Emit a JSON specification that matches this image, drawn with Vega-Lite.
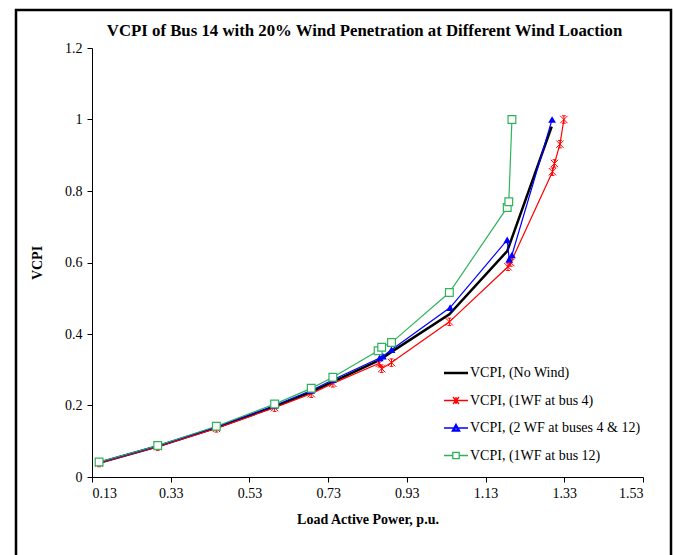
{
  "$schema": "https://vega.github.io/schema/vega-lite/v6.json",
  "width": 655,
  "height": 560,
  "autosize": "none",
  "padding": {"left": 16, "top": 10, "right": 2, "bottom": 0},
  "background": "white",
  "config": {
    "view": {"stroke": "black", "strokeWidth": 2.5},
    "font": "Liberation Serif",
    "axis": {"grid": false, "domainColor": "black", "tickColor": "black", "labelColor": "black", "titleColor": "black", "labelFont": "Liberation Serif", "titleFont": "Liberation Serif", "labelFontSize": 14, "titleFontSize": 14, "titleFontWeight": "bold", "tickSize": 5, "domainWidth": 1, "tickWidth": 1}
  },
  "title": {"text": "VCPI of Bus 14 with 20% Wind Penetration at Different Wind Loaction", "font": "Liberation Serif", "fontSize": 16.8, "fontWeight": "bold", "color": "black", "anchor": "middle", "frame": "group", "offset": -30, "dx": 21},
  "data": {"values": [
    {"series": "VCPI, (No Wind)", "x": 0.148, "y": 0.040},
    {"series": "VCPI, (No Wind)", "x": 0.297, "y": 0.086},
    {"series": "VCPI, (No Wind)", "x": 0.446, "y": 0.138},
    {"series": "VCPI, (No Wind)", "x": 0.594, "y": 0.197},
    {"series": "VCPI, (No Wind)", "x": 0.687, "y": 0.238},
    {"series": "VCPI, (No Wind)", "x": 0.742, "y": 0.266},
    {"series": "VCPI, (No Wind)", "x": 0.860, "y": 0.327},
    {"series": "VCPI, (No Wind)", "x": 0.891, "y": 0.350},
    {"series": "VCPI, (No Wind)", "x": 1.038, "y": 0.455},
    {"series": "VCPI, (No Wind)", "x": 1.185, "y": 0.632},
    {"series": "VCPI, (No Wind)", "x": 1.298, "y": 0.980},
    {"series": "VCPI, (1WF at bus 4)", "x": 0.148, "y": 0.039},
    {"series": "VCPI, (1WF at bus 4)", "x": 0.297, "y": 0.085},
    {"series": "VCPI, (1WF at bus 4)", "x": 0.446, "y": 0.136},
    {"series": "VCPI, (1WF at bus 4)", "x": 0.594, "y": 0.194},
    {"series": "VCPI, (1WF at bus 4)", "x": 0.687, "y": 0.233},
    {"series": "VCPI, (1WF at bus 4)", "x": 0.742, "y": 0.262},
    {"series": "VCPI, (1WF at bus 4)", "x": 0.860, "y": 0.318},
    {"series": "VCPI, (1WF at bus 4)", "x": 0.866, "y": 0.303},
    {"series": "VCPI, (1WF at bus 4)", "x": 0.891, "y": 0.320},
    {"series": "VCPI, (1WF at bus 4)", "x": 1.038, "y": 0.434},
    {"series": "VCPI, (1WF at bus 4)", "x": 1.187, "y": 0.588},
    {"series": "VCPI, (1WF at bus 4)", "x": 1.194, "y": 0.600},
    {"series": "VCPI, (1WF at bus 4)", "x": 1.300, "y": 0.854},
    {"series": "VCPI, (1WF at bus 4)", "x": 1.305, "y": 0.877},
    {"series": "VCPI, (1WF at bus 4)", "x": 1.319, "y": 0.931},
    {"series": "VCPI, (1WF at bus 4)", "x": 1.329, "y": 1.000},
    {"series": "VCPI, (2 WF at buses 4 & 12)", "x": 0.148, "y": 0.041},
    {"series": "VCPI, (2 WF at buses 4 & 12)", "x": 0.297, "y": 0.087},
    {"series": "VCPI, (2 WF at buses 4 & 12)", "x": 0.446, "y": 0.140},
    {"series": "VCPI, (2 WF at buses 4 & 12)", "x": 0.594, "y": 0.200},
    {"series": "VCPI, (2 WF at buses 4 & 12)", "x": 0.687, "y": 0.242},
    {"series": "VCPI, (2 WF at buses 4 & 12)", "x": 0.742, "y": 0.272},
    {"series": "VCPI, (2 WF at buses 4 & 12)", "x": 0.861, "y": 0.333},
    {"series": "VCPI, (2 WF at buses 4 & 12)", "x": 0.869, "y": 0.338},
    {"series": "VCPI, (2 WF at buses 4 & 12)", "x": 0.891, "y": 0.356},
    {"series": "VCPI, (2 WF at buses 4 & 12)", "x": 1.040, "y": 0.474},
    {"series": "VCPI, (2 WF at buses 4 & 12)", "x": 1.185, "y": 0.663},
    {"series": "VCPI, (2 WF at buses 4 & 12)", "x": 1.190, "y": 0.609},
    {"series": "VCPI, (2 WF at buses 4 & 12)", "x": 1.197, "y": 0.621},
    {"series": "VCPI, (2 WF at buses 4 & 12)", "x": 1.299, "y": 1.000},
    {"series": "VCPI, (1WF at bus 12)", "x": 0.148, "y": 0.042},
    {"series": "VCPI, (1WF at bus 12)", "x": 0.297, "y": 0.088},
    {"series": "VCPI, (1WF at bus 12)", "x": 0.446, "y": 0.142},
    {"series": "VCPI, (1WF at bus 12)", "x": 0.594, "y": 0.204},
    {"series": "VCPI, (1WF at bus 12)", "x": 0.687, "y": 0.248},
    {"series": "VCPI, (1WF at bus 12)", "x": 0.742, "y": 0.279},
    {"series": "VCPI, (1WF at bus 12)", "x": 0.857, "y": 0.353},
    {"series": "VCPI, (1WF at bus 12)", "x": 0.866, "y": 0.363},
    {"series": "VCPI, (1WF at bus 12)", "x": 0.891, "y": 0.376},
    {"series": "VCPI, (1WF at bus 12)", "x": 1.038, "y": 0.516},
    {"series": "VCPI, (1WF at bus 12)", "x": 1.185, "y": 0.754},
    {"series": "VCPI, (1WF at bus 12)", "x": 1.189, "y": 0.770},
    {"series": "VCPI, (1WF at bus 12)", "x": 1.197, "y": 1.000}
  ]},
  "encoding": {
    "x": {"field": "x", "type": "quantitative", "scale": {"domain": [0.13, 1.53], "range": [76, 627], "nice": false, "zero": false},
          "axis": {"title": "Load Active Power, p.u.", "values": [0.13, 0.33, 0.53, 0.73, 0.93, 1.13, 1.33, 1.53], "format": ".2f", "offset": -93, "labelPadding": 4, "titlePadding": 12}},
    "y": {"field": "y", "type": "quantitative", "scale": {"domain": [0, 1.2], "range": [467, 38], "nice": false, "zero": true},
          "axis": {"title": "VCPI", "values": [0, 0.2, 0.4, 0.6, 0.8, 1, 1.2], "format": "~g", "offset": -76, "labelPadding": 5, "titlePadding": 20}}
  },
  "layer": [
    {
      "transform": [{"filter": {"field": "series", "equal": "VCPI, (No Wind)"}}],
      "mark": {"type": "line", "color": "black", "strokeWidth": 2.5, "clip": false}
    },
    {
      "transform": [{"filter": {"field": "series", "equal": "VCPI, (1WF at bus 4)"}}],
      "mark": {"type": "line", "color": "#FF0000", "strokeWidth": 1.2, "clip": false}
    },
    {
      "transform": [{"filter": {"field": "series", "equal": "VCPI, (2 WF at buses 4 & 12)"}}],
      "mark": {"type": "line", "color": "#0000FF", "strokeWidth": 1.2, "clip": false}
    },
    {
      "transform": [{"filter": {"field": "series", "equal": "VCPI, (1WF at bus 12)"}}],
      "mark": {"type": "line", "color": "#2EB35A", "strokeWidth": 1.2, "clip": false}
    },
    {
      "transform": [{"filter": {"field": "series", "equal": "VCPI, (1WF at bus 4)"}}],
      "mark": {"type": "point", "shape": "M-1,-1L1,1M-1,1L1,-1M0,-1V1M-0.5,-1H0.5M-0.5,1H0.5", "filled": false, "color": "#FF0000", "size": 55, "strokeWidth": 1, "opacity": 1}
    },
    {
      "transform": [{"filter": {"field": "series", "equal": "VCPI, (2 WF at buses 4 & 12)"}}],
      "mark": {"type": "point", "shape": "triangle-up", "filled": true, "color": "#0000FF", "size": 60, "opacity": 1}
    },
    {
      "transform": [{"filter": {"field": "series", "equal": "VCPI, (1WF at bus 12)"}}],
      "mark": {"type": "point", "shape": "square", "filled": false, "fill": "white", "fillOpacity": 1, "color": "#2EB35A", "size": 60, "strokeWidth": 1.2, "opacity": 1}
    },
    {
      "transform": [{"filter": "datum.x > 99"}],
      "mark": {"type": "point", "filled": false, "size": 400, "opacity": 1, "strokeWidth": 1.3},
      "encoding": {
        "color": {"field": "series", "type": "nominal",
                  "scale": {"domain": ["VCPI, (No Wind)", "VCPI, (1WF at bus 4)", "VCPI, (2 WF at buses 4 & 12)", "VCPI, (1WF at bus 12)"], "range": ["black", "#FF0000", "#0000FF", "#2EB35A"]},
                  "legend": {"title": null, "orient": "none", "legendX": 429, "legendY": 352, "padding": 0, "rowPadding": 9.5, "labelOffset": 3, "symbolSize": 400, "labelFont": "Liberation Serif", "labelFontSize": 14, "labelColor": "black", "symbolStrokeWidth": 1.3, "labelLimit": 300}},
        "shape": {"field": "series", "type": "nominal",
                  "scale": {"domain": ["VCPI, (No Wind)", "VCPI, (1WF at bus 4)", "VCPI, (2 WF at buses 4 & 12)", "VCPI, (1WF at bus 12)"],
                            "range": ["M-1.2,0H1.2M-1.2,0.05H1.2M-1.2,-0.05H1.2", "M-1.2,0H1.2M-0.3,-0.35L0.3,0.35M-0.3,0.35L0.3,-0.35M0,-0.35V0.35", "M-1.2,0H1.2M0,-0.38L0.38,0.3L-0.38,0.3ZM0,-0.2L0.2,0.18L-0.2,0.18Z", "M-1.2,0H-0.32M0.32,0H1.2M-0.32,-0.32H0.32V0.32H-0.32Z"]},
                  "legend": {"title": null, "orient": "none", "legendX": 429, "legendY": 352, "padding": 0, "rowPadding": 9.5, "labelOffset": 3, "symbolSize": 400, "labelFont": "Liberation Serif", "labelFontSize": 14, "labelColor": "black", "symbolStrokeWidth": 1.3, "labelLimit": 300}}
      }
    }
  ]
}
